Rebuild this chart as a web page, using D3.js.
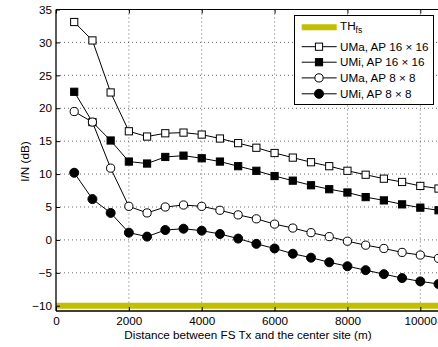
<!DOCTYPE html>
<html><head><meta charset="utf-8">
<script src="https://cdn.jsdelivr.net/npm/d3@7"></script>
<style>
html,body{margin:0;padding:0;background:#fff;}
svg{display:block;font-family:"Liberation Sans",Arial,sans-serif;}
</style></head>
<body><svg id="c" width="438" height="347"></svg>
<script>
const distances = [500,1000,1500,2000,2500,3000,3500,4000,4500,5000,5500,6000,6500,7000,7500,8000,8500,9000,9500,10000,10500];
const umaAP16 = [33.1,30.3,22.4,16.5,15.7,16.2,16.3,16.0,15.4,14.7,14.0,13.2,12.5,11.8,11.2,10.5,9.9,9.3,8.8,8.2,7.8];
const umiAP16 = [22.5,17.9,15.1,11.9,11.6,12.6,12.8,12.4,11.9,11.2,10.5,9.7,9.0,8.3,7.7,7.2,6.5,6.0,5.4,4.9,4.5];
const umaAP8  = [19.5,17.9,10.9,5.1,4.1,5.0,5.3,5.1,4.5,3.8,3.2,2.4,1.8,1.1,0.5,-0.2,-0.8,-1.3,-1.9,-2.3,-2.8];
const umiAP8  = [10.2,6.2,4.1,1.1,0.5,1.5,1.7,1.4,0.9,0.2,-0.6,-1.3,-2.1,-2.7,-3.4,-4.0,-4.6,-5.2,-5.8,-6.3,-6.7];
const thresholdFS = -10;
const xTicks = [0,2000,4000,6000,8000,10000];
const yTicks = [-10,-5,0,5,10,15,20,25,30,35];
const seriesNames = ["UMa, AP 16 \u00d7 16","UMi, AP 16 \u00d7 16","UMa, AP 8 \u00d7 8","UMi, AP 8 \u00d7 8"];
const seriesMarkers = ["square","square","circle","circle"];
const seriesFilled = [false,true,false,true];
const seriesValues = [umaAP16, umiAP16, umaAP8, umiAP8];

const FS = 11.7;
const svg = d3.select("#c");
const x = d3.scaleLinear().domain([0,10000]).range([56,420.3]);
const y = d3.scaleLinear().domain([-10.8,35]).range([311,9.5]);
const pL = 56, pR = 445, pT = 9.5, pB = 311;
const yellow = "#c2bf00";

// grid
const grid = svg.append("g").attr("stroke","#444").attr("stroke-width",0.8).attr("stroke-dasharray","1,3");
xTicks.filter(t=>t>0).forEach(t=>grid.append("line").attr("x1",x(t)).attr("x2",x(t)).attr("y1",pT).attr("y2",pB));
yTicks.filter(t=>t>-10&&t<35).forEach(t=>grid.append("line").attr("x1",pL).attr("x2",pR).attr("y1",y(t)).attr("y2",y(t)));

// threshold
svg.append("line").attr("x1",pL).attr("x2",pR).attr("y1",y(thresholdFS)).attr("y2",y(thresholdFS))
  .attr("stroke",yellow).attr("stroke-width",6);

// axes
const xAxis = d3.axisBottom(x).tickValues(xTicks).tickSizeInner(-4).tickSizeOuter(0).tickPadding(6).tickFormat(d3.format("d"));
const gx = svg.append("g").attr("transform",`translate(0,${pB})`).call(xAxis);
const xTop = d3.axisTop(x).tickValues(xTicks).tickSizeInner(-4).tickSizeOuter(0).tickFormat("");
const gxt = svg.append("g").attr("transform",`translate(0,${pT})`).call(xTop);
const yAxis = d3.axisLeft(y).tickValues(yTicks).tickSizeInner(-4).tickSizeOuter(0).tickPadding(4)
  .tickFormat(d=> d<0 ? "\u2212"+Math.abs(d) : d);
const gy = svg.append("g").attr("transform",`translate(${pL},0)`).call(yAxis);
[gx,gxt,gy].forEach(g=>{
  g.select(".domain").remove();
  g.selectAll("line").attr("stroke","#000");
  g.selectAll("text").attr("font-size",FS).attr("fill","#000").attr("font-family","Liberation Sans, Arial, sans-serif");
});
// frame lines
svg.append("line").attr("x1",pL).attr("x2",pR).attr("y1",pB).attr("y2",pB).attr("stroke","#000").attr("stroke-width",1.3);
svg.append("line").attr("x1",pL).attr("x2",pR).attr("y1",pT).attr("y2",pT).attr("stroke","#000").attr("stroke-width",1);
svg.append("line").attr("x1",pL).attr("x2",pL).attr("y1",pT).attr("y2",pB).attr("stroke","#000").attr("stroke-width",1.3);

// series
function drawMarker(g, type, filled, cx, cy){
  if(type==="square"){
    g.append("rect").attr("x",cx-3.6).attr("y",cy-3.6).attr("width",7.2).attr("height",7.2)
      .attr("fill",filled?"#000":"#fff").attr("stroke","#000").attr("stroke-width",1);
  } else {
    g.append("circle").attr("cx",cx).attr("cy",cy).attr("r",filled?4.5:4.1)
      .attr("fill",filled?"#000":"#fff").attr("stroke","#000").attr("stroke-width",1);
  }
}
const line = d3.line().x((d,i)=>x(distances[i])).y(d=>y(d));
seriesValues.forEach((vals,s)=>{
  const g = svg.append("g");
  g.append("path").attr("d",line(vals)).attr("fill","none").attr("stroke","#000").attr("stroke-width",1);
  vals.forEach((v,i)=>drawMarker(g, seriesMarkers[s], seriesFilled[s], x(distances[i]), y(v)));
});

// labels
svg.append("text").attr("x",248).attr("y",339).attr("text-anchor","middle").attr("font-size",FS)
  .text("Distance between FS Tx and the center site (m)");
svg.append("text").attr("transform","translate(29,161.5) rotate(-90)").attr("text-anchor","middle").attr("font-size",FS)
  .text("I/N (dB)");

// legend
const lg = svg.append("g");
lg.append("rect").attr("x",294.5).attr("y",15.5).attr("width",139).attr("height",89)
  .attr("fill","#fff").attr("stroke","#000").attr("stroke-width",1);
const lx1 = 301.7, lx2 = 336.7, lxm = 319, tx = 340;
lg.append("line").attr("x1",lx1).attr("x2",lx2).attr("y1",27.3).attr("y2",27.3).attr("stroke",yellow).attr("stroke-width",6);
const th = lg.append("text").attr("x",tx).attr("y",27.3).attr("dy","0.2em").attr("font-size",FS);
th.append("tspan").text("TH");
th.append("tspan").attr("font-size",8.5).attr("dy","0.45em").text("fs");
const rowY = [46.7,62.2,77.9,93.8];
seriesNames.forEach((n,s)=>{
  lg.append("line").attr("x1",lx1).attr("x2",lx2).attr("y1",rowY[s]).attr("y2",rowY[s]).attr("stroke","#000").attr("stroke-width",1);
  drawMarker(lg, seriesMarkers[s], seriesFilled[s], lxm, rowY[s]);
  lg.append("text").attr("x",tx).attr("y",rowY[s]).attr("dy","0.36em").attr("font-size",FS).text(n);
});
</script></body></html>
